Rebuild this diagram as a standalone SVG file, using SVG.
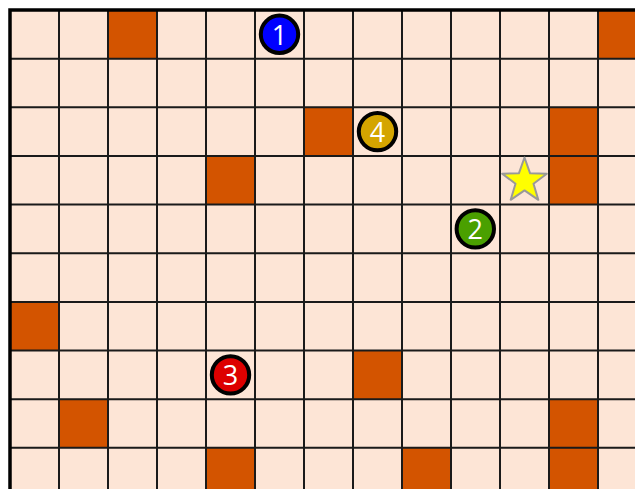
<svg xmlns="http://www.w3.org/2000/svg" width="635" height="489" viewBox="0 0 635 489">
<style>
.cell{fill:#FDE5D6}
.wall{fill:#D35400}
.grid{stroke:#1a1a1a;stroke-width:2;fill:none}
.border{stroke:#000;stroke-width:3.5;fill:none}
.tok{stroke:#000;stroke-width:4}
.num{font-family:"Open Sans","Liberation Sans",sans-serif;font-size:27px;fill:#fff;text-anchor:middle;dominant-baseline:central}
</style>
<rect width="635" height="489" fill="#fff"/>
<rect class="cell" x="10" y="10" width="625" height="479"/>
<g id="walls">
<rect class="wall" x="108" y="10" width="49" height="48.65"/>
<rect class="wall" x="598" y="10" width="49" height="48.65"/>
<rect class="wall" x="304" y="107.3" width="49" height="48.65"/>
<rect class="wall" x="549" y="107.3" width="49" height="48.65"/>
<rect class="wall" x="206" y="155.95" width="49" height="48.65"/>
<rect class="wall" x="549" y="155.95" width="49" height="48.65"/>
<rect class="wall" x="10" y="301.9" width="49" height="48.65"/>
<rect class="wall" x="353" y="350.55" width="49" height="48.65"/>
<rect class="wall" x="59" y="399.2" width="49" height="48.65"/>
<rect class="wall" x="549" y="399.2" width="49" height="48.65"/>
<rect class="wall" x="206" y="447.85" width="49" height="48.65"/>
<rect class="wall" x="402" y="447.85" width="49" height="48.65"/>
<rect class="wall" x="549" y="447.85" width="49" height="48.65"/>
</g>
<g id="connectors" class="grid">
<path d="M59 10V489M108 10V489M157 10V489M206 10V489M255 10V489M304 10V489M353 10V489M402 10V489M451 10V489M500 10V489M549 10V489M598 10V489"/>
<path d="M10 58.65H635M10 107.3H635M10 155.95H635M10 204.6H635M10 253.25H635M10 301.9H635M10 350.55H635M10 399.2H635M10 447.85H635"/>
<path class="border" d="M10 489V10H635"/>
</g>
<g id="star">
<polygon points="524.5,157.5 530.1,173.3 546.8,173.7 533.5,183.8 538.3,199.8 524.5,190.4 510.7,199.8 515.5,183.8 502.2,173.7 518.9,173.3" fill="#FFFF00" stroke="#999" stroke-width="2" stroke-linejoin="round"/>
</g>
<g id="token1">
<circle class="tok" cx="279.5" cy="34.3" r="18.7" fill="#0000FF"/>
<text class="num" x="279.5" y="34.3">1</text>
</g>
<g id="token2">
<circle class="tok" cx="475.3" cy="228.9" r="18.7" fill="#4AA000"/>
<text class="num" x="475.3" y="228.9">2</text>
</g>
<g id="token3">
<circle class="tok" cx="230.5" cy="374.9" r="18.7" fill="#DD0000"/>
<text class="num" x="230.5" y="374.9">3</text>
</g>
<g id="token4">
<circle class="tok" cx="377.5" cy="131.6" r="18.7" fill="#D4A500"/>
<text class="num" x="377.5" y="131.6">4</text>
</g>
</svg>
